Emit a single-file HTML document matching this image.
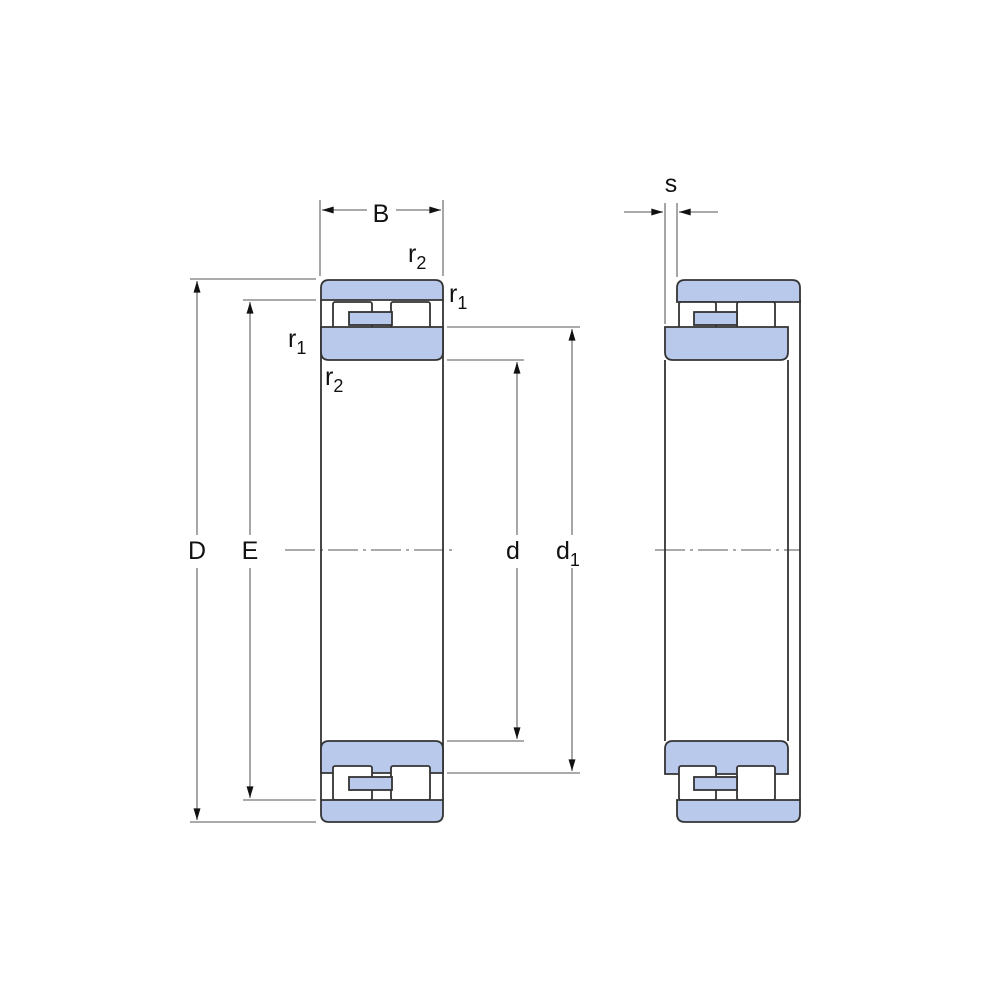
<!DOCTYPE html>
<html><head><meta charset="utf-8"><style>
html,body{margin:0;padding:0;background:#fff}
svg{display:block}
text{font-family:"Liberation Sans",sans-serif;fill:#111}
</style></head><body>
<svg width="1000" height="1000" viewBox="0 0 1000 1000" xmlns="http://www.w3.org/2000/svg">
<defs>
<marker id="a" viewBox="0 0 10 6" refX="10" refY="3" markerWidth="16" markerHeight="7" orient="auto-start-reverse" markerUnits="userSpaceOnUse"><path d="M0,0 L10,3 L0,6 z" fill="#111"/></marker>
</defs>
<g stroke="#777" stroke-width="1.3" fill="none">
<line x1="190" y1="279" x2="316" y2="279"/><line x1="190" y1="822" x2="316" y2="822"/>
<line x1="197" y1="281" x2="197" y2="535" marker-start="url(#a)"/><line x1="197" y1="568" x2="197" y2="820" marker-end="url(#a)"/>
<line x1="243" y1="300" x2="316" y2="300"/><line x1="243" y1="800" x2="316" y2="800"/>
<line x1="250" y1="302" x2="250" y2="535" marker-start="url(#a)"/><line x1="250" y1="568" x2="250" y2="798" marker-end="url(#a)"/>
<line x1="447" y1="360" x2="524" y2="360"/><line x1="447" y1="741" x2="524" y2="741"/>
<line x1="517" y1="362" x2="517" y2="535" marker-start="url(#a)"/><line x1="517" y1="568" x2="517" y2="739" marker-end="url(#a)"/>
<line x1="447" y1="327" x2="580" y2="327"/><line x1="447" y1="773" x2="580" y2="773"/>
<line x1="572" y1="329" x2="572" y2="535" marker-start="url(#a)"/><line x1="572" y1="568" x2="572" y2="771" marker-end="url(#a)"/>
<line x1="320" y1="200" x2="320" y2="276"/><line x1="443" y1="200" x2="443" y2="276"/>
<line x1="322" y1="210" x2="367" y2="210" marker-start="url(#a)"/><line x1="396" y1="210" x2="441" y2="210" marker-end="url(#a)"/>
<line x1="665" y1="203" x2="665" y2="324"/><line x1="677" y1="203" x2="677" y2="277"/>
<line x1="624" y1="212" x2="663" y2="212" marker-end="url(#a)"/><line x1="718" y1="212" x2="679" y2="212" marker-end="url(#a)"/>
<line x1="285" y1="550" x2="455" y2="550" stroke-dasharray="30,5,3,5"/>
<line x1="655" y1="550" x2="800" y2="550" stroke-dasharray="30,5,3,5"/>
</g>
<g stroke="#333" stroke-width="1.8" fill="#b9c9ec">
<line x1="321" y1="300" x2="321" y2="800"/><line x1="443" y1="300" x2="443" y2="800"/>
<path d="M321,300 L321,288 Q321,280 329,280 L435,280 Q443,280 443,288 L443,300 Z"/>
<rect x="333" y="302" width="39" height="34" fill="#fff" rx="2"/>
<rect x="391" y="302" width="39" height="34" fill="#fff" rx="2"/>
<rect x="349" y="312" width="43" height="13"/>
<path d="M321,327 L443,327 L443,352 Q443,360 435,360 L329,360 Q321,360 321,352 Z"/>
<path d="M321,773 L321,749 Q321,741 329,741 L435,741 Q443,741 443,749 L443,773 Z"/>
<rect x="333" y="766" width="39" height="34" fill="#fff" rx="2"/>
<rect x="391" y="766" width="39" height="34" fill="#fff" rx="2"/>
<rect x="349" y="777" width="43" height="13"/>
<path d="M321,800 L443,800 L443,814 Q443,822 435,822 L329,822 Q321,822 321,814 Z"/>
<line x1="665" y1="360" x2="665" y2="741"/><line x1="788" y1="360" x2="788" y2="741"/>
<line x1="800" y1="300" x2="800" y2="800"/>
<path d="M677,302 L677,288 Q677,280 685,280 L792,280 Q800,280 800,288 L800,302 Z"/>
<rect x="679" y="302" width="37" height="34" fill="#fff" rx="2"/>
<rect x="737" y="302" width="38" height="34" fill="#fff" rx="2"/>
<rect x="694" y="312" width="43" height="13"/>
<path d="M665,327 L788,327 L788,352 Q788,360 780,360 L673,360 Q665,360 665,352 Z"/>
<path d="M665,774 L665,749 Q665,741 673,741 L780,741 Q788,741 788,749 L788,774 Z"/>
<rect x="679" y="766" width="37" height="34" fill="#fff" rx="2"/>
<rect x="737" y="766" width="38" height="34" fill="#fff" rx="2"/>
<rect x="694" y="777" width="43" height="13"/>
<path d="M677,800 L800,800 L800,814 Q800,822 792,822 L685,822 Q677,822 677,814 Z"/>
</g>
<g font-size="25">
<text x="381" y="222" text-anchor="middle">B</text>
<text x="671" y="192" text-anchor="middle">s</text>
<text x="408" y="262">r<tspan font-size="18" dy="7">2</tspan></text>
<text x="449" y="302">r<tspan font-size="18" dy="7">1</tspan></text>
<text x="288" y="347">r<tspan font-size="18" dy="7">1</tspan></text>
<text x="325" y="385">r<tspan font-size="18" dy="7">2</tspan></text>
<text x="197" y="559" text-anchor="middle">D</text>
<text x="250" y="559" text-anchor="middle">E</text>
<text x="513" y="559" text-anchor="middle">d</text>
<text x="556" y="559">d<tspan font-size="18" dy="7">1</tspan></text>
</g>
</svg>
</body></html>
